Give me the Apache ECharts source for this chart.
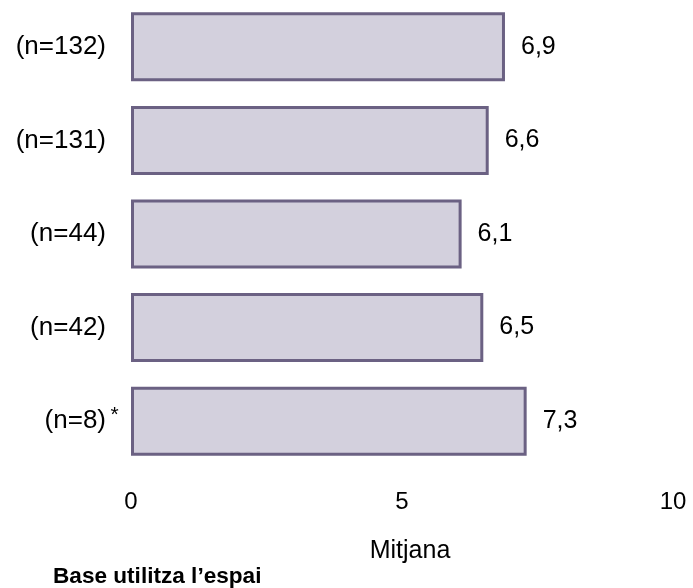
<!DOCTYPE html>
<html>
<head>
<meta charset="utf-8">
<script src="https://cdn.jsdelivr.net/npm/echarts@6/dist/echarts.min.js"></script>
<style>
html,body{margin:0;padding:0;background:#fff;}
#chart{width:693px;height:588px;}
</style>
</head>
<body>
<div id="chart"></div>
<script>
var categories = ['(n=132)', '(n=131)', '(n=44)', '(n=42)', '(n=8)'];
var markers = ['', '', '', '', '*'];
var values = [6.9, 6.6, 6.1, 6.5, 7.3];
var xTicks = [0, 5, 10];
var axisName = 'Mitjana';
var footer = 'Base utilitza l\u2019espai';

var FONT = '"Liberation Sans", Arial, Helvetica, sans-serif';
var chart = echarts.init(document.getElementById('chart'));
chart.setOption({
  animation: false,
  backgroundColor: '#ffffff',
  title: {
    text: footer,
    left: 53,
    top: 565,
    padding: 0,
    textStyle: {fontFamily: FONT, fontSize: 22.6, fontWeight: 'bold', color: '#000'}
  },
  grid: {left: 131, right: 20, top: -2, height: 470, containLabel: false},
  xAxis: {
    type: 'value',
    min: xTicks[0],
    max: xTicks[xTicks.length - 1],
    interval: xTicks[1] - xTicks[0],
    axisLine: {show: false},
    axisTick: {show: false},
    splitLine: {show: false},
    axisLabel: {margin: 22, fontFamily: FONT, fontSize: 24, color: '#000'},
    name: axisName,
    nameLocation: 'middle',
    nameGap: 71,
    nameTextStyle: {fontFamily: FONT, fontSize: 25, color: '#000', padding: [0, 0, 0, 16]}
  },
  yAxis: {
    type: 'category',
    inverse: true,
    data: categories,
    axisLine: {show: false},
    axisTick: {show: false},
    splitLine: {show: false},
    axisLabel: {
      margin: 9,
      align: 'right',
      formatter: function (v, i) { return '{a|' + v + '}{s|' + markers[i] + '}'; },
      rich: {
        a: {fontFamily: FONT, fontSize: 26, color: '#000'},
        s: {fontFamily: FONT, fontSize: 21, color: '#000', width: 15, align: 'left', verticalAlign: 'top', padding: [0, 0, 12, 1]}
      }
    }
  },
  series: [{
    type: 'bar',
    data: values,
    barWidth: 69,
    itemStyle: {color: '#d3d0dd', borderColor: '#6b6183', borderWidth: 3},
    label: {
      show: true,
      position: 'right',
      distance: 16,
      fontFamily: FONT,
      fontSize: 25,
      color: '#000',
      formatter: function (p) { return String(p.value).replace('.', ','); }
    }
  }]
});
</script>
</body>
</html>
